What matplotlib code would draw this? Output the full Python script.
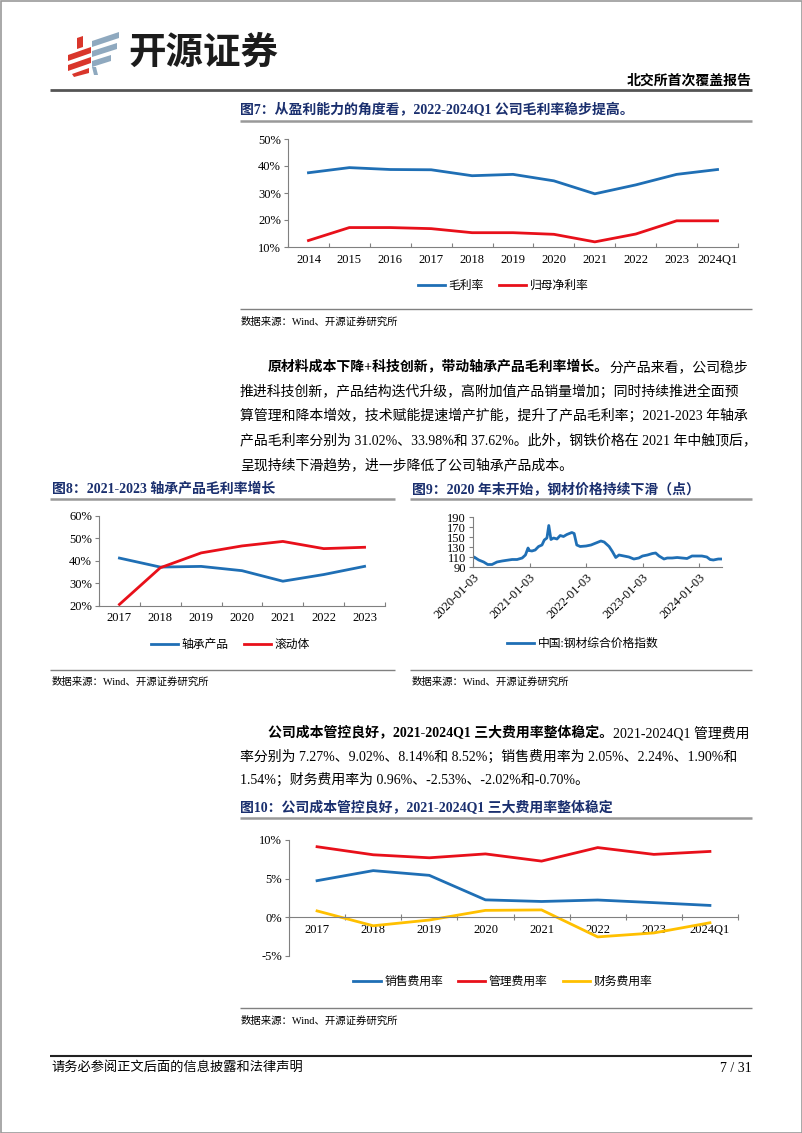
import matplotlib.pyplot as plt
import numpy as np
import pandas as pd
import matplotlib.dates as mdates
from matplotlib.patches import Polygon, Rectangle
from matplotlib.ticker import FuncFormatter

plt.rcParams['font.family'] = ['Liberation Serif', 'Noto Sans CJK SC']

W, H = 802, 1133
BLUE = '#1f6fb5'
RED = '#e8101a'
YELLOW = '#ffc000'
NAVY = '#1a2f6e'
GRAY = '#808080'

# fig 7: margins
years7 = ['2014', '2015', '2016', '2017', '2018', '2019', '2020', '2021', '2022', '2023', '2024Q1']
gross7 = [37.5, 39.4, 38.7, 38.6, 36.4, 36.9, 34.5, 29.7, 33.0, 36.9, 38.7]
net7 = [12.4, 17.2, 17.2, 16.8, 15.3, 15.3, 14.7, 11.9, 14.8, 19.7, 19.7]

# fig 8: product margins
years8 = ['2017', '2018', '2019', '2020', '2021', '2022', '2023']
bearing8 = [41.3, 37.3, 37.6, 35.7, 31.02, 33.98, 37.62]
roller8 = [20.7, 37.0, 43.6, 46.7, 48.7, 45.5, 46.1]

# fig 9: steel price index
steel_dates = ['2020-01-03', '2020-01-10', '2020-02-09', '2020-03-12', '2020-04-07', '2020-05-05',
               '2020-06-06', '2020-07-09', '2020-08-10', '2020-09-12', '2020-10-14', '2020-11-16',
               '2020-12-07', '2020-12-24', '2020-12-31', '2021-01-18', '2021-02-08', '2021-03-02',
               '2021-03-24', '2021-04-08', '2021-04-25', '2021-05-07', '2021-05-21', '2021-06-07',
               '2021-06-29', '2021-07-20', '2021-08-10', '2021-09-01', '2021-10-03', '2021-10-18',
               '2021-11-04', '2021-11-26', '2022-01-03', '2022-02-04', '2022-03-08', '2022-04-09',
               '2022-04-30', '2022-06-01', '2022-06-22', '2022-07-14', '2022-08-04', '2022-09-05',
               '2022-10-07', '2022-11-08', '2022-12-10', '2023-01-03', '2023-02-04', '2023-03-08',
               '2023-03-29', '2023-04-20', '2023-05-22', '2023-06-12', '2023-07-14', '2023-08-15',
               '2023-09-16', '2023-10-18', '2023-11-19', '2023-12-21', '2024-01-22', '2024-02-23',
               '2024-03-15', '2024-04-05', '2024-05-07', '2024-05-28']
steel_vals = [107, 110, 104, 100, 95, 95,
              100, 102, 103.5, 105, 105, 108,
              114, 128, 123, 122, 124, 131,
              134, 144, 148, 173, 145, 148,
              146, 153, 151, 155, 159, 157,
              134, 131, 132, 134, 138, 142,
              140, 131, 121, 109, 114, 112,
              110, 106, 108, 112, 114, 117,
              118, 112, 106, 108, 108, 109,
              108, 107, 112, 112, 112, 110,
              105, 104, 106, 106]
steel_ticks = ['2020-01-03', '2021-01-03', '2022-01-03', '2023-01-03', '2024-01-03']

# fig 10: expense ratios
years10 = ['2017', '2018', '2019', '2020', '2021', '2022', '2023', '2024Q1']
sales10 = [4.74, 6.04, 5.43, 2.26, 2.05, 2.24, 1.90, 1.54]
admin10 = [9.13, 8.09, 7.70, 8.20, 7.27, 9.02, 8.14, 8.52]
fin10 = [0.83, -1.09, -0.35, 0.90, 0.96, -2.53, -2.02, -0.70]

fig = plt.figure(figsize=(W / 100, H / 100), dpi=100)
bg = fig.add_axes([0, 0, 1, 1])
bg.set_xlim(0, W)
bg.set_ylim(H, 0)
bg.axis('off')
renderer = fig.canvas.get_renderer()


def px_ax(x0, y0, x1, y1):
    ax = fig.add_axes([x0 / W, 1 - y1 / H, (x1 - x0) / W, (y1 - y0) / H])
    ax.patch.set_alpha(0)
    return ax


def hline(y, x0, x1, color=GRAY, lw=1.0):
    bg.plot([x0, x1], [y, y], color=color, lw=lw, solid_capstyle='butt')


def run_text(x, y, parts, size=10, color='black'):
    for s, bold in parts:
        t = bg.text(x, y, s, fontsize=size, fontweight='bold' if bold else 'normal',
                    va='center', ha='left', color=color)
        x += t.get_window_extent(renderer).width


def style_cat(ax, labels, pad=5):
    n = len(labels)
    ax.set_xlim(-0.5, n - 0.5)
    ax.set_xticks(np.arange(-0.5, n, 1))
    ax.set_xticklabels([])
    ax.set_xticks(range(n), labels, minor=True)
    ax.tick_params(axis='x', which='major', direction='in', length=3, color=GRAY)
    ax.tick_params(axis='x', which='minor', length=0, labelsize=9, pad=pad)
    ax.tick_params(axis='y', direction='out', length=3, color=GRAY, labelsize=9, pad=2)
    ax.yaxis.set_major_formatter(FuncFormatter(lambda v, p: f'{v:.0f}%'))
    for s in ['top', 'right']:
        ax.spines[s].set_visible(False)
    for s in ['left', 'bottom']:
        ax.spines[s].set_color(GRAY)


def legend_at(ax, cx, cy, ncol):
    ax.legend(loc='center', bbox_to_anchor=(cx / W, 1 - cy / H), bbox_transform=fig.transFigure,
              ncol=ncol, frameon=False, fontsize=8.5, handlelength=2.3, handletextpad=0.3,
              columnspacing=1.3)


# page frame
bg.add_patch(Rectangle((0.5, 0.5), W - 1, H - 1, fill=False, ec='#9a9a9a', lw=1.2))

# logo
red_bars = [[(68, 55), (91, 47), (91, 53), (68, 61)],
            [(68, 65), (91, 57), (91, 63), (68, 71)],
            [(72, 74), (89, 68), (89, 73), (74, 77)],
            [(77, 38), (83, 36), (83, 47), (77, 49)]]
blue_bars = [[(92, 41), (119, 32), (119, 38), (92, 47)],
             [(92, 51), (117, 43), (117, 49), (92, 57)],
             [(92, 61), (111, 55), (111, 61), (92, 67)],
             [(92, 67), (96, 67), (98, 75), (94, 75)]]
for p in red_bars:
    bg.add_patch(Polygon(p, closed=True, fc='#d9362b', ec='none'))
for p in blue_bars:
    bg.add_patch(Polygon(p, closed=True, fc='#8fa9bf', ec='none'))
bg.text(128, 54, '开源证券', fontsize=27, fontweight='bold', va='center', ha='left', color='#1c1c1c')
bg.text(752, 81, '北交所首次覆盖报告', fontsize=10, fontweight='bold', va='center', ha='right')
hline(90, 50, 752, color='#555555', lw=2)

# ---- figure 7 ----
run_text(240, 110, [('图7：从盈利能力的角度看，2022-2024Q1 公司毛利率稳步提高。', True)], size=10, color=NAVY)
hline(121, 240, 752, color='#999999', lw=1.8)
ax1 = px_ax(288, 139, 738, 247)
x7 = np.arange(len(years7))
ax1.plot(x7, gross7, color=BLUE, lw=2, label='毛利率')
ax1.plot(x7, net7, color=RED, lw=2, label='归母净利率')
ax1.set_ylim(10, 50)
ax1.set_yticks([10, 20, 30, 40, 50])
style_cat(ax1, years7)
legend_at(ax1, 503, 286, 2)
hline(309, 240, 752)
bg.text(241, 322, '数据来源：Wind、开源证券研究所', fontsize=7.5, va='center')

# ---- paragraph 1 ----
para1 = [
    (268, [('原材料成本下降+科技创新，带动轴承产品毛利率增长。', True), ('分产品来看，公司稳步', False)]),
    (240, [('推进科技创新，产品结构迭代升级，高附加值产品销量增加；同时持续推进全面预', False)]),
    (240, [('算管理和降本增效，技术赋能提速增产扩能，提升了产品毛利率；2021-2023 年轴承', False)]),
    (240, [('产品毛利率分别为 31.02%、33.98%和 37.62%。此外，钢铁价格在 2021 年中触顶后，', False)]),
    (240, [('呈现持续下滑趋势，进一步降低了公司轴承产品成本。', False)]),
]
for i, (x0, parts) in enumerate(para1):
    run_text(x0, 367 + i * 24.5, parts, size=10)

# ---- figure 8 ----
run_text(52, 489, [('图8：2021-2023 轴承产品毛利率增长', True)], size=10, color=NAVY)
hline(499, 50, 395, color='#999999', lw=1.8)
ax2 = px_ax(99, 516, 385, 606)
x8 = np.arange(len(years8))
ax2.plot(x8, bearing8, color=BLUE, lw=2, label='轴承产品')
ax2.plot(x8, roller8, color=RED, lw=2, label='滚动体')
ax2.set_ylim(20, 60)
ax2.set_yticks([20, 30, 40, 50, 60])
style_cat(ax2, years8, pad=4)
legend_at(ax2, 230, 645, 2)
hline(670, 50, 395)
bg.text(52, 682, '数据来源：Wind、开源证券研究所', fontsize=7.5, va='center')

# ---- figure 9 ----
run_text(412, 489, [('图9：2020 年末开始，钢材价格持续下滑（点）', True)], size=10, color=NAVY)
hline(499, 410, 752, color='#999999', lw=1.8)
ax3 = px_ax(473, 517, 722, 567)
sd = pd.to_datetime(steel_dates)
ax3.plot(sd, steel_vals, color=BLUE, lw=2, label='中国:钢材综合价格指数')
ax3.set_xlim(pd.Timestamp('2020-01-03'), pd.Timestamp('2024-05-31'))
ax3.set_ylim(90, 190)
ax3.set_yticks(range(90, 191, 20))
ax3.set_xticks(pd.to_datetime(steel_ticks))
ax3.xaxis.set_major_formatter(mdates.DateFormatter('%Y-%m-%d'))
for lab in ax3.get_xticklabels():
    lab.set_rotation(45)
    lab.set_ha('right')
    lab.set_va('top')
    lab.set_rotation_mode('anchor')
ax3.tick_params(axis='x', direction='in', length=3, color=GRAY, labelsize=9, pad=3)
ax3.tick_params(axis='y', direction='out', length=3, color=GRAY, labelsize=9, pad=2)
for s in ['top', 'right']:
    ax3.spines[s].set_visible(False)
for s in ['left', 'bottom']:
    ax3.spines[s].set_color(GRAY)
legend_at(ax3, 583, 644, 1)
hline(670, 410, 752)
bg.text(412, 682, '数据来源：Wind、开源证券研究所', fontsize=7.5, va='center')

# ---- paragraph 2 ----
para2 = [
    (268, [('公司成本管控良好，2021-2024Q1 三大费用率整体稳定。', True), ('2021-2024Q1 管理费用', False)]),
    (240, [('率分别为 7.27%、9.02%、8.14%和 8.52%；销售费用率为 2.05%、2.24%、1.90%和', False)]),
    (240, [('1.54%；财务费用率为 0.96%、-2.53%、-2.02%和-0.70%。', False)]),
]
for i, (x0, parts) in enumerate(para2):
    run_text(x0, 733 + i * 23.5, parts, size=10)

# ---- figure 10 ----
run_text(240, 808, [('图10：公司成本管控良好，2021-2024Q1 三大费用率整体稳定', True)], size=10, color=NAVY)
hline(818, 240, 752, color='#999999', lw=1.8)
ax4 = px_ax(289, 840, 738, 956)
x10 = np.arange(len(years10))
ax4.plot(x10, sales10, color=BLUE, lw=2, label='销售费用率')
ax4.plot(x10, admin10, color=RED, lw=2, label='管理费用率')
ax4.plot(x10, fin10, color=YELLOW, lw=2, label='财务费用率')
ax4.set_ylim(-5, 10)
ax4.set_yticks([-5, 0, 5, 10])
style_cat(ax4, years10, pad=5)
ax4.spines['bottom'].set_position(('data', 0))
ax4.tick_params(axis='x', which='major', direction='inout', length=4)
legend_at(ax4, 503, 982, 3)
hline(1008, 240, 752)
bg.text(241, 1021, '数据来源：Wind、开源证券研究所', fontsize=7.5, va='center')

# footer
hline(1056, 50, 752, color='#222222', lw=1.5)
bg.text(51, 1068, '请务必参阅正文后面的信息披露和法律声明', fontsize=9.5, va='center')
bg.text(752, 1068, '7 / 31', fontsize=10, va='center', ha='right')

fig.savefig('out.png', dpi=100)
